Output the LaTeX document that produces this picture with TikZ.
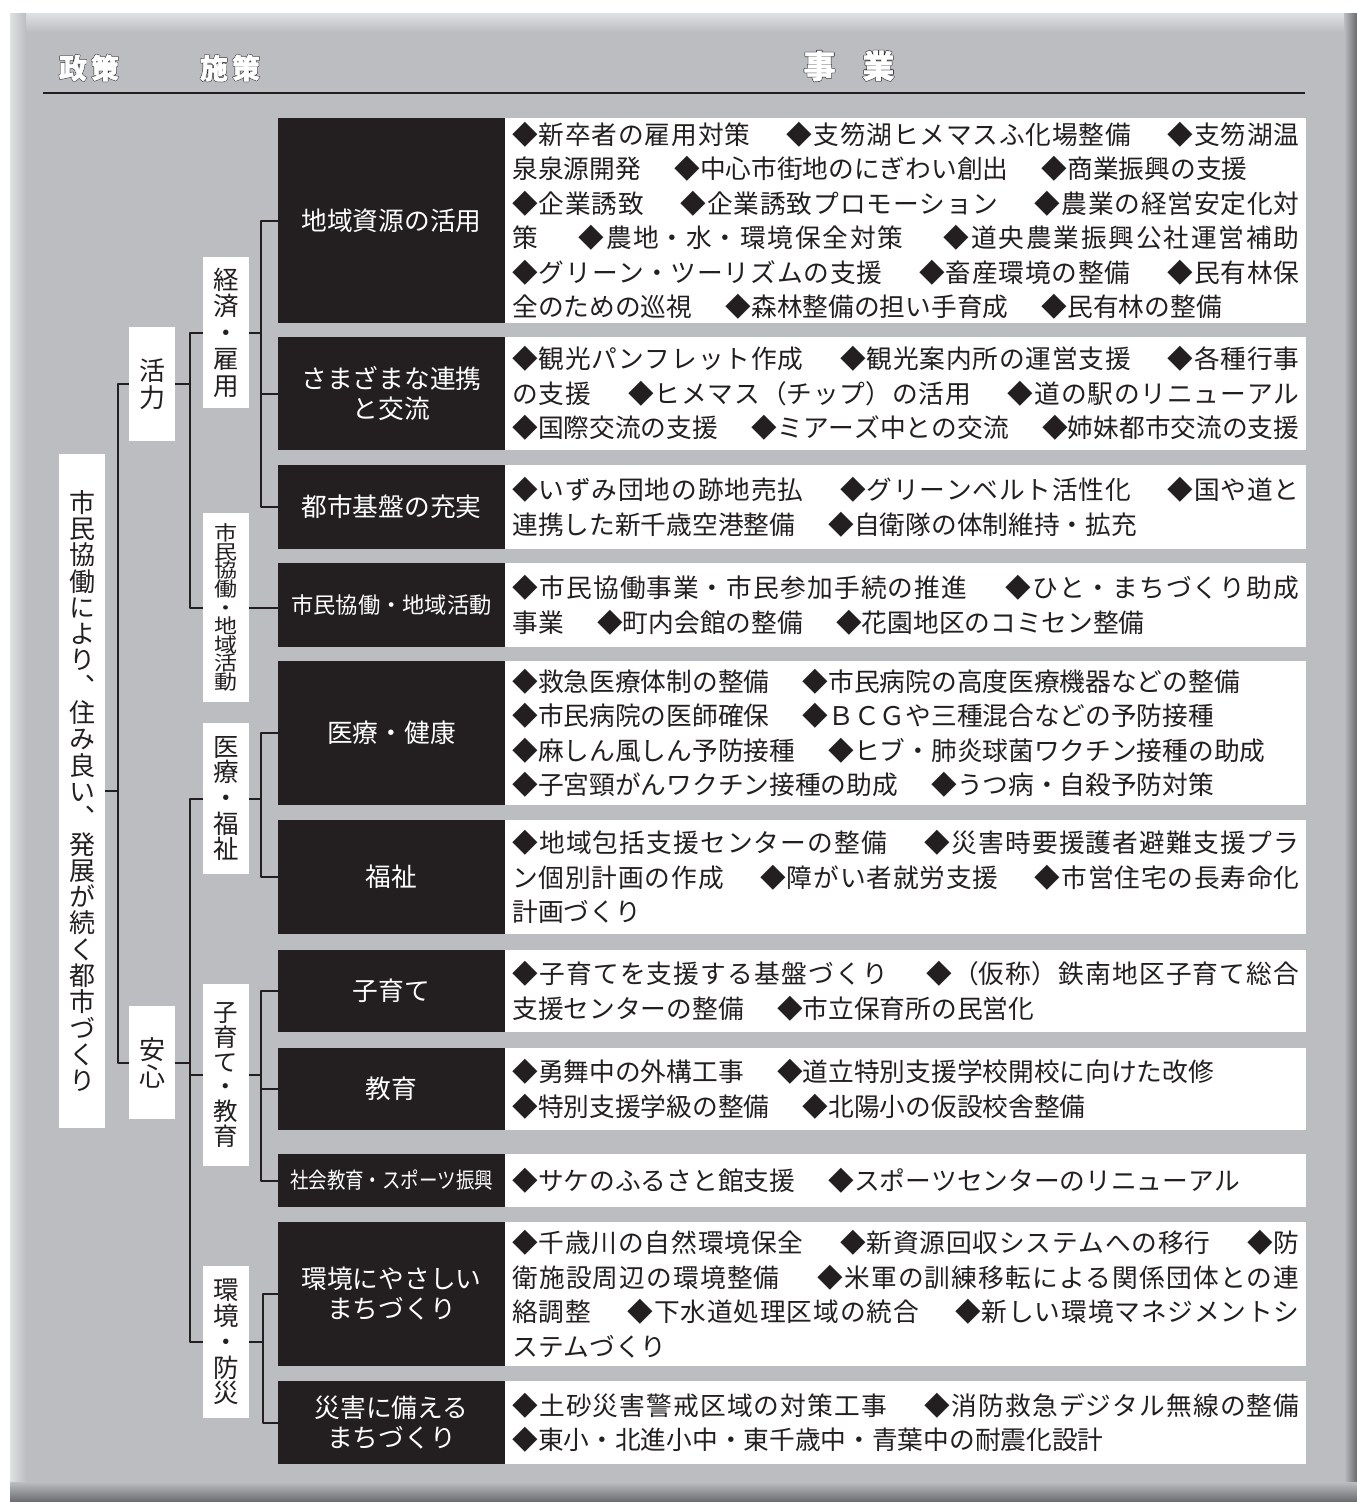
\documentclass[tikz,border=0pt]{standalone}
\usepackage{fontspec}
\usetikzlibrary{positioning}
\setmainfont{Noto Sans CJK JP}
\newfontfamily\vertfont[RawFeature=+vert]{Noto Sans CJK JP}
\newfontfamily\vertwide[RawFeature=+vert,FakeStretch=1.15]{Noto Sans CJK JP}
\newfontfamily\narrowfont[FakeStretch=0.84]{Noto Sans CJK JP}
\newfontfamily\headback[FakeBold=5]{Noto Sans CJK JP}
\newfontfamily\headfront[FakeBold=1.5]{Noto Sans CJK JP}
\XeTeXlinebreaklocale "ja"
\XeTeXlinebreakskip=0pt plus 1.5pt minus 0.3pt
\definecolor{panel}{RGB}{188,189,193}
\definecolor{panellight}{RGB}{224,225,227}
\definecolor{paneldark}{RGB}{105,106,109}
\definecolor{ink}{RGB}{35,31,32}
\newcommand\sep{\hskip 1.3em}
\newcommand\jsep{\hskip 1.3em plus 6pt minus 8pt}
\newcommand\jline[1]{\parbox[t]{787pt}{\parindent=0pt\parfillskip=0pt\tolerance=10000\let\sep\jsep #1}}
\tikzset{
  tree/.style={draw=ink, line width=2pt},
  vlabel/.style={fill=white, text=ink, inner sep=0pt, align=center, minimum width=46pt},
  measure/.style={fill=ink, text=white, minimum width=227pt, inner sep=0pt, align=center,
    font={\fontsize{25.7}{30}\selectfont}},
  project/.style={fill=white, text=ink, text width=787pt, inner xsep=7pt, inner ysep=0pt,
    align=left, font={\fontsize{25.7}{34.5}\selectfont}},
  headback/.style={text=ink, font={\headback\bfseries\fontsize{#1}{#1}\selectfont}},
  headtext/.style={text=white, font={\headfront\bfseries\fontsize{#1}{#1}\selectfont}},
}
\begin{document}
\begin{tikzpicture}[x=1pt, y=-1pt, line join=round]
\useasboundingbox (0,0) rectangle (1357,1502);
% panel
\fill[white] (0,0) rectangle (1357,1502);
\fill[panel] (10,13) rectangle (1357,1502);
\shade[top color=panellight, bottom color=panel] (10,13) rectangle (1357,32);
\shade[left color=panellight, right color=panel] (10,13) rectangle (26,1484);
\shade[left color=panel, right color=paneldark] (1344,13) rectangle (1357,1502);
\shade[top color=panel, bottom color=paneldark] (10,1482) rectangle (1357,1502);
% heading
\node[headback=28] (hpolicyback) at (89,68) {政\kern4pt策};
\node[headtext=28] (hpolicy) at (89,68) {政\kern4pt策};
\node[headback=28] (hmeasureback) at (230,68) {施\kern4pt策};
\node[headtext=28] (hmeasure) at (230,68) {施\kern4pt策};
\node[headback=32] (hprojectback) at (849,66) {事\kern27pt業};
\node[headtext=32] (hproject) at (849,66) {事\kern27pt業};
\coordinate (hl) at (43,93);
\coordinate (hr) at (1305,93);
\draw[tree] (hl) -- (hr);

% policy and measure columns
\node[vlabel, minimum height=674pt, font={\vertfont\fontsize{26}{26.3}\selectfont\lineskiplimit=-50pt}] (root) at (82,791)
  {市\\民\\協\\働\\に\\よ\\り\\、\\住\\み\\良\\い\\、\\発\\展\\が\\続\\く\\都\\市\\づ\\く\\り};
\node[vlabel, minimum height=114pt, font={\vertfont\fontsize{26}{27}\selectfont\lineskiplimit=-50pt}] (katsu) at (152,384) {活\\力};
\node[vlabel, minimum height=113pt, font={\vertfont\fontsize{26}{27}\selectfont\lineskiplimit=-50pt}] (anshin) at (152,1062.5) {安\\心};
\node[vlabel, minimum height=151pt, font={\vertfont\fontsize{25.5}{26.5}\selectfont\lineskiplimit=-50pt}] (keizai) at (226,332.5) {経\\済\\・\\雇\\用};
\node[vlabel, minimum height=189pt, font={\vertwide\fontsize{20}{18.6}\selectfont\lineskiplimit=-50pt}] (shimin) at (226,607.5) {市\\民\\協\\働\\・\\地\\域\\活\\動};
\node[vlabel, minimum height=151pt, font={\vertfont\fontsize{25.5}{25.7}\selectfont\lineskiplimit=-50pt}] (iryo) at (226,798.5) {医\\療\\・\\福\\祉};
\node[vlabel, minimum height=182pt, font={\vertfont\fontsize{24.5}{24.8}\selectfont\lineskiplimit=-50pt}] (kosodate) at (226,1075) {子\\育\\て\\・\\教\\育};
\node[vlabel, minimum height=152pt, font={\vertfont\fontsize{25.5}{25.8}\selectfont\lineskiplimit=-50pt}] (kankyo) at (226,1342) {環\\境\\・\\防\\災};

% measures
\node[measure, minimum height=205pt] (m1) at (391.5,220.5) {地域資源の活用};
\node[measure, minimum height=113pt] (m2) at (391.5,393.5) {さまざまな連携\\と交流};
\node[measure, minimum height=84pt] (m3) at (391.5,507) {都市基盤の充実};
\node[measure, minimum height=84pt, font={\fontsize{22.3}{26}\selectfont}] (m4) at (391.5,605) {市民協働・地域活動};
\node[measure, minimum height=144pt] (m5) at (391.5,733) {医療・健康};
\node[measure, minimum height=114pt] (m6) at (391.5,877) {福祉};
\node[measure, minimum height=82pt] (m7) at (391.5,991) {子育て};
\node[measure, minimum height=82pt] (m8) at (391.5,1089) {教育};
\node[measure, minimum height=53pt, font={\narrowfont\fontsize{22}{26}\selectfont}] (m9) at (391.5,1180.5) {社会教育・スポーツ振興};
\node[measure, minimum height=144pt] (m10) at (391.5,1294) {環境にやさしい\\まちづくり};
\node[measure, minimum height=83pt] (m11) at (391.5,1422.5) {災害に備える\\まちづくり};

% projects
\node[project, minimum height=205pt, right=0pt of m1] (p1) {%
  \jline{◆新卒者の雇用対策\sep◆支笏湖ヒメマスふ化場整備\sep◆支笏湖温}\\
  泉泉源開発\sep◆中心市街地のにぎわい創出\sep◆商業振興の支援\\
  \jline{◆企業誘致\sep◆企業誘致プロモーション\sep◆農業の経営安定化対}\\
  \jline{策\sep◆農地・水・環境保全対策\sep◆道央農業振興公社運営補助}\\
  \jline{◆グリーン・ツーリズムの支援\sep◆畜産環境の整備\sep◆民有林保}\\
  全のための巡視\sep◆森林整備の担い手育成\sep◆民有林の整備};
\node[project, minimum height=113pt, right=0pt of m2] (p2) {%
  \jline{◆観光パンフレット作成\sep◆観光案内所の運営支援\sep◆各種行事}\\
  \jline{の支援\sep◆ヒメマス（チップ）の活用\sep◆道の駅のリニューアル}\\
  \jline{◆国際交流の支援\sep◆ミアーズ中との交流\sep◆姉妹都市交流の支援}};
\node[project, minimum height=84pt, right=0pt of m3] (p3) {%
  \jline{◆いずみ団地の跡地売払\sep◆グリーンベルト活性化\sep◆国や道と}\\
  連携した新千歳空港整備\sep◆自衛隊の体制維持・拡充};
\node[project, minimum height=84pt, right=0pt of m4] (p4) {%
  \jline{◆市民協働事業・市民参加手続の推進\sep◆ひと・まちづくり助成}\\
  事業\sep◆町内会館の整備\sep◆花園地区のコミセン整備};
\node[project, minimum height=144pt, right=0pt of m5] (p5) {%
  ◆救急医療体制の整備\sep◆市民病院の高度医療機器などの整備\\
  ◆市民病院の医師確保\sep◆ＢＣＧや三種混合などの予防接種\\
  ◆麻しん風しん予防接種\sep◆ヒブ・肺炎球菌ワクチン接種の助成\\
  ◆子宮頸がんワクチン接種の助成\sep◆うつ病・自殺予防対策};
\node[project, minimum height=114pt, right=0pt of m6] (p6) {%
  \jline{◆地域包括支援センターの整備\sep◆災害時要援護者避難支援プラ}\\
  \jline{ン個別計画の作成\sep◆障がい者就労支援\sep◆市営住宅の長寿命化}\\
  計画づくり};
\node[project, minimum height=82pt, right=0pt of m7] (p7) {%
  \jline{◆子育てを支援する基盤づくり\sep◆（仮称）鉄南地区子育て総合}\\
  支援センターの整備\sep◆市立保育所の民営化};
\node[project, minimum height=82pt, right=0pt of m8] (p8) {%
  ◆勇舞中の外構工事\sep◆道立特別支援学校開校に向けた改修\\
  ◆特別支援学級の整備\sep◆北陽小の仮設校舎整備};
\node[project, minimum height=53pt, right=0pt of m9] (p9) {%
  ◆サケのふるさと館支援\sep◆スポーツセンターのリニューアル};
\node[project, minimum height=144pt, right=0pt of m10] (p10) {%
  \jline{◆千歳川の自然環境保全\sep◆新資源回収システムへの移行\sep◆防}\\
  \jline{衛施設周辺の環境整備\sep◆米軍の訓練移転による関係団体との連}\\
  \jline{絡調整\sep◆下水道処理区域の統合\sep◆新しい環境マネジメントシ}\\
  ステムづくり};
\node[project, minimum height=83pt, right=0pt of m11] (p11) {%
  \jline{◆土砂災害警戒区域の対策工事\sep◆消防救急デジタル無線の整備}\\
  ◆東小・北進小中・東千歳中・青葉中の耐震化設計};

% tree
\coordinate (j1) at (118,0);
\coordinate (j2) at (190,0);
\coordinate (j3) at (261,0);
\coordinate (j4) at (263,0);
\draw[tree] (root.east) -- (root.east -| j1);
\draw[tree] (katsu.west) -- (katsu.west -| j1) |- (anshin.west);
\draw[tree] (katsu.east) -- (katsu.east -| j2);
\draw[tree] (keizai.west) -- (keizai.west -| j2) |- (shimin.west);
\draw[tree] (anshin.east) -- (anshin.east -| j2);
\draw[tree] (iryo.west) -- (iryo.west -| j2) |- (kankyo.west);
\draw[tree] (kosodate.west) -- (kosodate.west -| j2);
\draw[tree] (keizai.east) -- (keizai.east -| j3);
\draw[tree] (m1.west) -- (m1.west -| j3) |- (m3.west);
\draw[tree] (m2.west) -- (m2.west -| j3);
\draw[tree] (shimin.east) -- (shimin.east -| m4.west);
\draw[tree] (iryo.east) -- (iryo.east -| j3);
\draw[tree] (m5.west) -- (m5.west -| j3) |- (m6.west);
\draw[tree] (kosodate.east) -- (kosodate.east -| j3);
\draw[tree] (m7.west) -- (m7.west -| j3) |- (m9.west);
\draw[tree] (m8.west) -- (m8.west -| j3);
\draw[tree] (kankyo.east) -- (kankyo.east -| j4);
\draw[tree] (m10.west) -- (m10.west -| j4) |- (m11.west);
\end{tikzpicture}
\end{document}
